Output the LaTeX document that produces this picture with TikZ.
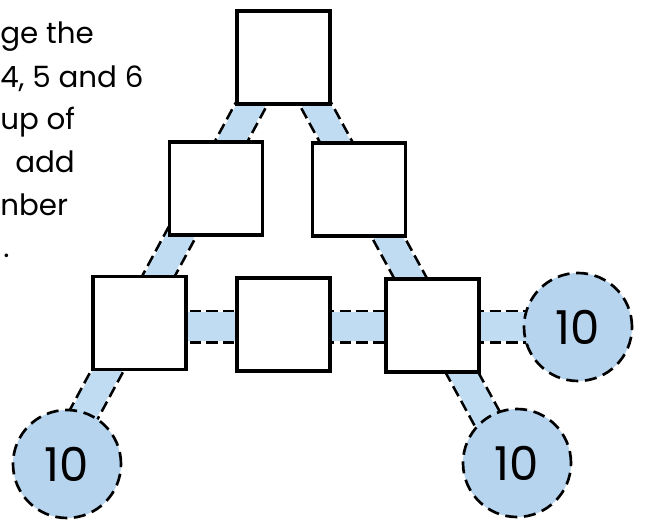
\documentclass[tikz,border=0pt]{standalone}
\usepackage{fontspec}
\setmainfont{Poppins}
\usetikzlibrary{calc,backgrounds}
\definecolor{bandblue}{RGB}{192,220,242}
\definecolor{ringblue}{RGB}{183,212,239}
\begin{document}
\begin{tikzpicture}[x=0.75pt,y=-0.75pt,
  numbox/.style={draw=black, line width=2.4pt, fill=white,
    minimum width=69.75pt, minimum height=69.75pt, inner sep=0pt, outer sep=0pt},
  ring/.style={circle, draw=black, line width=2pt, dash pattern=on 9pt off 5pt,
    fill=ringblue, minimum size=81pt, inner sep=0pt,
    font=\fontsize{35}{35}\selectfont},
  bandedge/.style={draw=black, line width=#1, dash pattern=on 8.5pt off 4pt},
  bandfill/.style={draw=bandblue, line width=#1},
  textline/.style={anchor=base west, inner sep=0pt, font=\fontsize{22}{22}\selectfont}]
\useasboundingbox (0,0) rectangle (645,523);

% instruction text, cut at the left edge
\node[textline] (t1) at (0,44)  {ge the};
\node[textline] (t2) at (0,88)  {4, 5 and 6};
\node[textline] (t3) at (0,130) {up of};
\node[textline] (t4) at (15,173) {add};
\node[textline] (t5) at (0,216) {nber};
\node[textline] (t6) at (3,258) {.};

% number boxes
\node[numbox] (top) at (283.5,57.5) {};
\node[numbox] (ml)  at (216,188.5) {};
\node[numbox] (mr)  at (359,189.5) {};
\node[numbox] (bl)  at (139.5,323) {};
\node[numbox] (bm)  at (283.5,324.5) {};
\node[numbox] (br)  at (432.5,325.5) {};

% target circles
\node[ring] (cr)  at (578,327) {10};
\node[ring] (cbl) at (67,464)  {10};
\node[ring] (cbr) at (517,463) {10};

% blue bands along the three sides
\begin{scope}[on background layer]
  \draw[bandedge=23.5pt] ($(top.center)+(-7,0)$) -- ($(cbl.center)+(-10,0)$);
  \draw[bandfill=19.5pt] ($(top.center)+(-7,0)$) -- ($(cbl.center)+(-10,0)$);
  \draw[bandedge=23.5pt] ($(top.center)+(6.5,0)$) -- ($(cbr.center)+(-5.6,0)$);
  \draw[bandfill=19.5pt] ($(top.center)+(6.5,0)$) -- ($(cbr.center)+(-5.6,0)$);
  \draw[bandedge=25.75pt] (bl.center |- cr.center) -- (cr.center);
  \draw[bandfill=21.75pt] (bl.center |- cr.center) -- (cr.center);
\end{scope}
\end{tikzpicture}
\end{document}
